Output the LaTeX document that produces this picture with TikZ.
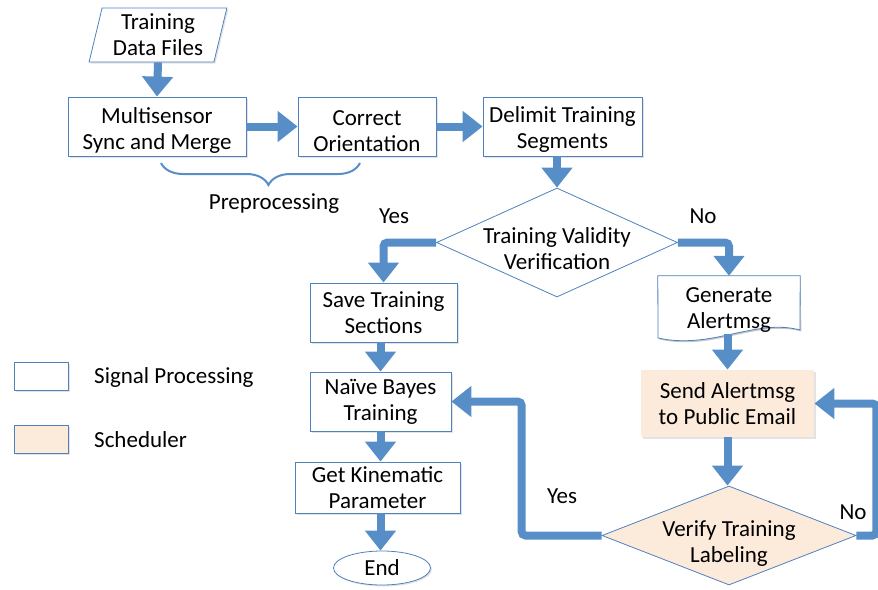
\documentclass[tikz,border=0pt]{standalone}
\usepackage{fontspec}
\setmainfont{Carlito}
\usepackage{tikz}
\usetikzlibrary{arrows.meta,positioning,shapes.geometric,shadows,decorations.pathreplacing}
\definecolor{flowblue}{RGB}{88,142,200}
\definecolor{boxline}{RGB}{79,129,189}
\definecolor{schedfill}{RGB}{252,234,219}
\tikzset{
  every node/.style={font=\fontsize{23}{26}\selectfont},
  boxshadow/.style={drop shadow={opacity=0.22, shadow xshift=1.5pt, shadow yshift=-1.5pt}},
  block/.style={draw=boxline, line width=0.8pt, fill=white, align=center,
                inner sep=0pt, boxshadow},
  sched/.style={block, draw=none, fill=schedfill},
  decision/.style={diamond, draw=boxline, line width=0.8pt, fill=white, inner sep=0pt},
  datafile/.style={trapezium, trapezium left angle=76, trapezium right angle=104,
                   trapezium stretches=true, draw=boxline, line width=0.8pt,
                   fill=white, align=center, inner sep=0pt, boxshadow},
  terminal/.style={ellipse, draw=boxline, line width=0.8pt, fill=white,
                   inner sep=0pt, boxshadow},
  legendbox/.style={draw=boxline, line width=0.8pt, minimum width=54pt,
                    minimum height=28pt, boxshadow},
  arrow/.style={-{Triangle[width=30pt,length=20pt]}, line width=8pt,
                draw=flowblue, rounded corners=4pt},
  lbl/.style={inner sep=0pt, align=center}
}

\begin{document}
\begin{tikzpicture}[x=1pt,y=-1pt]
  \useasboundingbox (0,0) rectangle (878,589);

  % preprocessing chain
  \node[datafile, minimum width=138pt, minimum height=54pt] (data) at (158,35)
    {Training\\Data Files};
  \node[block, minimum width=178pt, minimum height=59pt] (merge) at (157,126.5)
    {\rule{0pt}{24pt}Multisensor\\Sync and Merge};
  \node[block, minimum width=138pt, minimum height=59pt] (orient) at (367,126.5)
    {\rule{0pt}{24pt}Correct\\Orientation};
  \node[block, minimum width=159pt, minimum height=59pt] (delimit) at (562.5,126.5)
    {\rule{0pt}{22pt}Delimit Training\\Segments};
  \draw[decorate, decoration={brace, amplitude=22pt, aspect=0.54, mirror},
        draw=flowblue, line width=2pt] (161,163) -- (360,163);
  \node[lbl] (prep) at (274,204) {Preprocessing};

  \node[decision, minimum width=241pt, minimum height=109pt] (valid) at (557,242.5) {};
  \node[lbl] (validtxt) at ([yshift=-6pt]valid.center) {Training Validity\\Verification};

  % valid branch
  \node[block, minimum width=147pt, minimum height=59pt] (save) at (383.5,312.5)
    {Save Training\\Sections};
  \node[block, minimum width=141pt, minimum height=59pt] (bayes) at (380.5,401.5)
    {Naïve Bayes\\Training};
  \node[block, minimum width=165pt, minimum height=51pt] (kinem) at (377.5,487.5)
    {Get Kinematic\\Parameter};
  \node[terminal, minimum width=97pt, minimum height=34pt] (endn) at (382,568) {End};

  % invalid branch
  \node[minimum width=142pt, minimum height=58pt, inner sep=0pt] (gen) at (729,305) {};
  \fill[black, opacity=0.22, xshift=1.5pt, yshift=-1.5pt]
    (gen.north west) -- (gen.north east) -- (800,330)
    .. controls (755,318) and (712,350) .. (658,338) -- cycle;
  \filldraw[draw=boxline, fill=white, line width=0.8pt]
    (gen.north west) -- (gen.north east) -- (800,330)
    .. controls (755,318) and (712,350) .. (658,338) -- cycle;
  \node[lbl] (gentxt) at ([yshift=-5pt]gen.center) {Generate\\Alertmsg};
  \node[sched, minimum width=173pt, minimum height=67pt] (send) at (727.5,403.5)
    {Send Alertmsg\\to Public Email};
  \node[decision, fill=schedfill, minimum width=254pt, minimum height=99pt] (verify)
    at (729,535.5) {};
  \node[lbl] (verifytxt) at ([yshift=-8pt]verify.center) {Verify Training\\Labeling};

  % legend
  \node[legendbox, fill=white] (legsig) at (41,376) {};
  \node[lbl, anchor=west] (legsigtxt) at (94,377) {Signal Processing};
  \node[legendbox, fill=schedfill] (legsch) at (41,439) {};
  \node[lbl, anchor=west] (legschtxt) at (94,440) {Scheduler};

  % flow
  \draw[arrow] (data.south) -- (merge.north);
  \draw[arrow] (merge.east) -- (orient.west);
  \draw[arrow] (orient.east) -- (delimit.west);
  \draw[arrow] (valid.north |- delimit.south) -- (valid.north);
  \draw[arrow] (valid.west) -| (save.north);
  \draw[arrow] (valid.east) -| (gen.north);
  \draw[arrow] (bayes.north |- save.south) -- (bayes.north);
  \draw[arrow] (bayes.south) -- (bayes.south |- kinem.north);
  \draw[arrow] (bayes.south |- kinem.south) -- (bayes.south |- endn.north);
  \draw[arrow] (send.north |- gen.south) -- (send.north);
  \draw[arrow] (send.south) -- (send.south |- verify.north);
  \draw[arrow] (verify.west) -- ([xshift=-80pt]verify.west) |- (bayes.east);
  \draw[arrow] (verify.east) -- ([xshift=20pt]verify.east) |- (send.east);

  \node[lbl] (yes1) at (394,216) {Yes};
  \node[lbl] (no1) at (703,216) {No};
  \node[lbl] (yes2) at (562,496) {Yes};
  \node[lbl] (no2) at (853,512) {No};
\end{tikzpicture}
\end{document}
